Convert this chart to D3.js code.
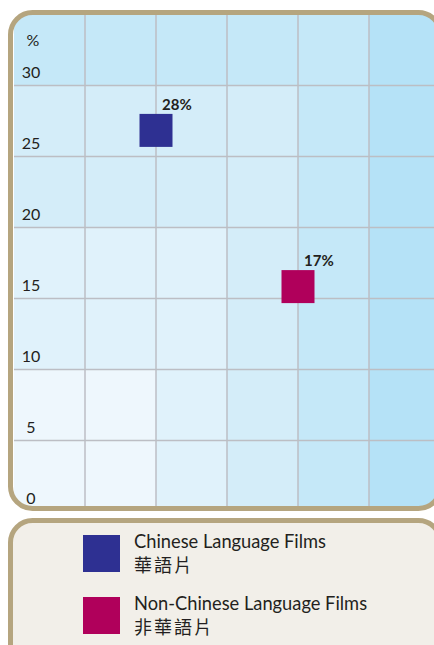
<!DOCTYPE html>
<html>
<head>
<meta charset="utf-8">
<script src="https://cdn.jsdelivr.net/npm/d3@7"></script>
<style>
  html, body { margin: 0; padding: 0; background: #fff; }
  svg { display: block; }
</style>
</head>
<body>
<div id="chart"></div>
<script>
// series
const names = ['Chinese Language Films', 'Non-Chinese Language Films'];
const namesZh = ['華語片', '非華語片'];
const values = [28, 17];
const columnOf = [2, 4];          // which grid column each square sits on
const colors = ['#2e3092', '#b0005b'];

// axis
const yTicks = [0, 5, 10, 15, 20, 25, 30];
const yMax = 35;
const nCols = 6;

const width = 434;
const height = 645;
const tan = '#b5a57f';
const ink = '#231f20';
const fontLat = 'Lato, "Noto Sans", sans-serif';
const fontZh = '"Noto Sans CJK TC", "Noto Sans CJK SC", sans-serif';

const svg = d3.select('#chart')
  .append('svg')
  .attr('width', width)
  .attr('height', height);

const x = d3.scaleLinear()
  .domain([0, nCols])
  .range([14, 440]);

const y = d3.scaleLinear()
  .domain([0, yMax])
  .range([511.5, 14.5]);

// panel shape
const panel = { x: 10.5, y: 12.5, w: 430, h: 496, r: 22 };

svg.append('clipPath')
  .attr('id', 'clip')
  .append('rect')
  .attr('x', panel.x).attr('y', panel.y)
  .attr('width', panel.w).attr('height', panel.h)
  .attr('rx', panel.r);

const plot = svg.append('g').attr('clip-path', 'url(#clip)');

// background cells, lighter at bottom left
const shades = ['#eef7fd', '#e0f2fb', '#d4edf9', '#c5e8f8', '#b5e2f7'];
const colLevel = [0, 0, 1, 2, 3, 4];
const rowLevel = [0, 0, 1, 1, 2, 2, 3]; // from bottom
const cells = [];
for (let r = 0; r < rowLevel.length; r++) {
  for (let c = 0; c < nCols; c++) {
    cells.push({ r, c, level: Math.max(rowLevel[r], colLevel[c]) });
  }
}
plot.append('g')
  .selectAll('rect')
  .data(cells)
  .join('rect')
    .attr('x', d => x(d.c))
    .attr('y', d => y((d.r + 1) * 5))
    .attr('width', x(1) - x(0))
    .attr('height', y(0) - y(5))
    .attr('fill', d => shades[d.level]);

// grid
plot.append('g')
  .attr('stroke', '#bcbec4')
  .attr('stroke-width', 1.5)
  .call(g => g.selectAll('.v')
    .data(d3.range(1, nCols))
    .join('line')
      .attr('x1', d => x(d)).attr('x2', d => x(d))
      .attr('y1', y(yMax)).attr('y2', y(0)))
  .call(g => g.selectAll('.h')
    .data(yTicks.slice(1))
    .join('line')
      .attr('x1', x(0)).attr('x2', x(nCols))
      .attr('y1', d => y(d)).attr('y2', d => y(d)));

// y tick labels, sitting just above each line
plot.append('g')
  .attr('font-family', fontLat)
  .attr('font-size', 16)
  .attr('fill', ink)
  .attr('text-anchor', 'middle')
  .selectAll('text')
  .data(yTicks)
  .join('text')
    .attr('x', 31)
    .attr('y', d => y(d) - 8)
    .text(d => d);

plot.append('text')
  .attr('x', 33)
  .attr('y', 46)
  .attr('text-anchor', 'middle')
  .attr('font-family', fontLat)
  .attr('font-size', 16)
  .attr('fill', ink)
  .text('%');

// squares: top edge marks the value
const size = 33;
const marks = values.map((v, i) => ({ v, col: columnOf[i], color: colors[i] }));

plot.append('g')
  .selectAll('rect')
  .data(marks)
  .join('rect')
    .attr('x', d => x(d.col) - size / 2)
    .attr('y', d => y(d.v))
    .attr('width', size)
    .attr('height', size)
    .attr('fill', d => d.color);

plot.append('g')
  .attr('font-family', fontLat)
  .attr('font-weight', 'bold')
  .attr('font-size', 15)
  .attr('fill', ink)
  .selectAll('text')
  .data(marks)
  .join('text')
    .attr('x', d => x(d.col) + 6)
    .attr('y', d => y(d.v) - 4)
    .text(d => d.v + '%');

svg.append('rect')
  .attr('x', panel.x).attr('y', panel.y)
  .attr('width', panel.w).attr('height', panel.h)
  .attr('rx', panel.r)
  .attr('fill', 'none')
  .attr('stroke', tan)
  .attr('stroke-width', 5);

// legend panel
svg.append('rect')
  .attr('x', 10.5).attr('y', 520.5)
  .attr('width', 430).attr('height', 160)
  .attr('rx', 22)
  .attr('fill', '#f2efe9')
  .attr('stroke', tan)
  .attr('stroke-width', 5);

const legend = svg.append('g')
  .selectAll('g')
  .data(names)
  .join('g')
    .attr('transform', (d, i) => `translate(83,${535 + i * 62})`);

legend.append('rect')
  .attr('width', 37)
  .attr('height', 37)
  .attr('fill', (d, i) => colors[i]);

legend.append('text')
  .attr('x', 51)
  .attr('y', 12.5)
  .attr('font-family', fontLat)
  .attr('font-size', 18.3)
  .attr('fill', ink)
  .text(d => d);

legend.append('text')
  .attr('x', 51)
  .attr('y', 36.5)
  .attr('font-family', fontZh)
  .attr('font-size', 18)
  .attr('letter-spacing', 2)
  .attr('fill', ink)
  .text((d, i) => namesZh[i]);
</script>
</body>
</html>
